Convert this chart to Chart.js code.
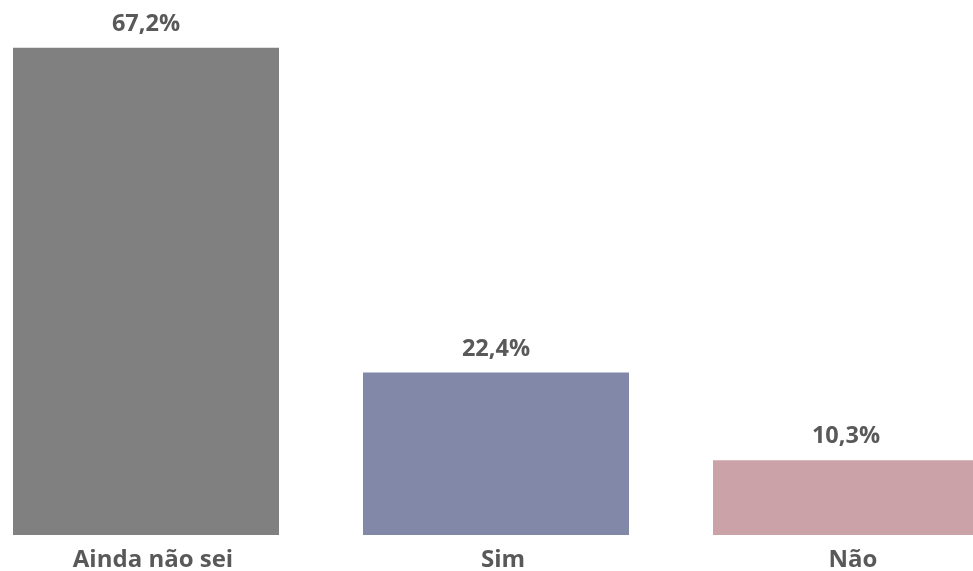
<!DOCTYPE html>
<html>
<head>
<meta charset="utf-8">
<script src="https://cdn.jsdelivr.net/npm/chart.js@4"></script>
<style>
  html, body { margin: 0; padding: 0; background: #ffffff; overflow: hidden; }
  body { width: 973px; height: 571px; position: relative; }
  #c { position: absolute; left: -29px; top: 0; }
</style>
</head>
<body>
<canvas id="c" width="1050" height="571"></canvas>
<script>
const categories = ["Ainda não sei", "Sim", "Não"];
const values = [67.2, 22.4, 10.3];
const barColors = ["#808080", "#8288A7", "#CBA2A7"];
const valueLabels = ["67,2%", "22,4%", "10,3%"];

const textColor = "#595959";
const fontFamily = "'Open Sans', 'Noto Sans', sans-serif";

const valueLabelPlugin = {
  id: "valueLabels",
  afterDatasetsDraw(chart) {
    const ctx = chart.ctx;
    const meta = chart.getDatasetMeta(0);
    ctx.save();
    ctx.fillStyle = textColor;
    ctx.font = "bold 23.5px " + fontFamily;
    ctx.textAlign = "center";
    ctx.textBaseline = "alphabetic";
    meta.data.forEach((bar, i) => {
      ctx.fillText(valueLabels[i], bar.x, bar.y - 17);
    });
    ctx.restore();
  }
};

new Chart(document.getElementById("c"), {
  type: "bar",
  data: {
    labels: categories,
    datasets: [{
      data: values,
      backgroundColor: barColors,
      borderWidth: 0,
      categoryPercentage: 1,
      barPercentage: 0.76
    }]
  },
  options: {
    responsive: false,
    animation: false,
    layout: { padding: { top: 27.5, bottom: 0, left: 0, right: 0 } },
    plugins: {
      legend: { display: false },
      tooltip: { enabled: false }
    },
    scales: {
      x: {
        grid: { display: false, drawTicks: false },
        border: { display: false },
        afterFit(scale) { scale.height = 36; },
        ticks: {
          color: textColor,
          font: { family: fontFamily, size: 24, weight: "bold" },
          padding: 11,
          labelOffset: 7,
          maxRotation: 0
        }
      },
      y: {
        display: false,
        min: 0,
        max: 70
      }
    }
  },
  plugins: [valueLabelPlugin]
});
</script>
</body>
</html>
